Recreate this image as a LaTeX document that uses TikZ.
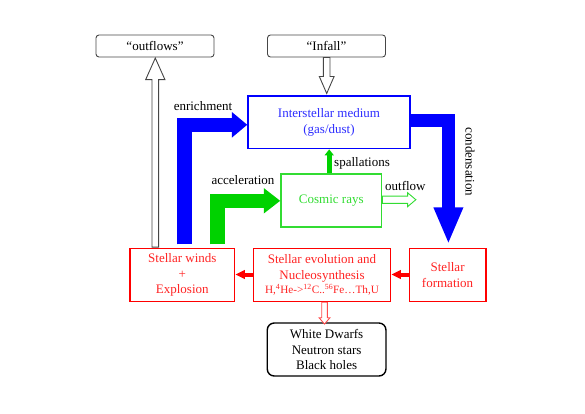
\documentclass[tikz,border=0pt]{standalone}
\usepackage{fontspec}
\setmainfont{Liberation Serif}
\usetikzlibrary{arrows.meta,calc}
\definecolor{cblue}{RGB}{0,0,255}
\definecolor{cbluetext}{RGB}{45,45,255}
\definecolor{cgreen}{RGB}{50,220,50}
\definecolor{cgreenfill}{RGB}{0,210,0}
\definecolor{cred}{RGB}{255,0,0}
\definecolor{credtext}{RGB}{255,35,35}
\definecolor{cgray}{RGB}{70,70,70}
\begin{document}
\begin{tikzpicture}[x=1pt,y=-1pt,
  every node/.style={font=\fontsize{13}{15.7}\selectfont, inner sep=0pt, align=center},
  topbox/.style={draw=cgray, line width=0.9pt, rounded corners=3pt, minimum width=118pt, minimum height=22pt},
  bluebox/.style={draw=cblue, line width=1.4pt, text=cbluetext, minimum width=162pt, minimum height=52.7pt},
  greenbox/.style={draw=cgreen, line width=1.4pt, text=cgreen, minimum width=100.7pt, minimum height=53pt},
  redbox/.style={draw=cred, line width=1.5pt, text=credtext, minimum height=53pt},
  blackbox/.style={draw=black, line width=1.4pt, rounded corners=7pt, minimum width=118.7pt, minimum height=53pt},
  lbl/.style={text=black},
  fatblue/.style={draw=cblue, line width=14.6pt, -{Triangle[width=24.7pt,length=15.5pt]}},
  fatgreen/.style={draw=cgreenfill, line width=14.5pt, -{Triangle[width=24.4pt,length=16.5pt]}},
  condblue/.style={draw=cblue, line width=13.5pt, -{Triangle[width=27pt,length=37pt]}},
  thingreen/.style={draw=cgreenfill, line width=5pt, -{Triangle[width=9pt,length=6pt]}},
  thinred/.style={draw=cred, line width=4pt, -{Triangle[width=8.5pt,length=9.5pt]}},
  hollow/.style={fill=white, line width=0.9pt, line join=miter}
]
\useasboundingbox (0,0) rectangle (585,413);

% boxes
\node[topbox] (outflows) at (155,46) {“outflows”};
\node[topbox] (infall) at (326.5,46) {“Infall”};
\node[bluebox] (ism) at (329,122.3) {Interstellar medium\\(gas/dust)};
\node[greenbox] (cr) at (331.3,200.5) {Cosmic rays};
\node[redbox, minimum width=104.7pt] (winds) at (182.3,275) {Stellar winds\\+\\Explosion};
\node[redbox, minimum width=137.4pt] (evol) at (322,275) {Stellar evolution and\\Nucleosynthesis\\[-1.5pt]{\fontsize{11.2}{13}\selectfont H,\textsuperscript{4}He->\textsuperscript{12}C..\textsuperscript{56}Fe…Th,U}};
\node[redbox, minimum width=76.7pt] (form) at (447.6,275) {Stellar\\formation};
\node[blackbox] (wd) at (326.6,349.5) {White Dwarfs\\Neutron stars\\Black holes};

% fat arrows
\draw[fatblue] ($(winds.north)+(2.4,-3.5)$) |- ($(ism.west)+(0,2.5)$);
\draw[fatgreen] ($(winds.north)+(35.2,-3.5)$) |- ($(cr.west)+(0,0.3)$);
\draw[condblue] ($(ism.east)+(0,-2)$) -| ($(form.north)+(0.8,-3.5)$);
\draw[thingreen] ($(cr.north)+(-2.1,0)$) -- ($(ism.south)+(0.2,0)$);
\draw[thinred] ($(form.west)+(0,-0.5)$) -- ($(evol.east)+(0,-0.5)$);
\draw[thinred] ($(evol.west)+(0,-0.5)$) -- ($(winds.east)+(0,-0.5)$);

% hollow arrows
\coordinate (oa) at ($(outflows.south)+(0.3,0.6)$);
\draw[hollow, draw=cgray] ($(oa)+(-3.3,189)$) -- ($(oa)+(-3.3,21.5)$) -- ($(oa)+(-9.6,21.5)$) -- (oa) -- ($(oa)+(9.6,21.5)$) -- ($(oa)+(3.3,21.5)$) -- ($(oa)+(3.3,189)$) -- cycle;
\coordinate (ia) at ($(infall.south)+(0.2,36)$);
\draw[hollow, draw=cgray] ($(ia)+(-3.3,-36)$) -- ($(ia)+(-3.3,-17)$) -- ($(ia)+(-7.4,-17)$) -- (ia) -- ($(ia)+(7.4,-17)$) -- ($(ia)+(3.3,-17)$) -- ($(ia)+(3.3,-36)$) -- cycle;
\coordinate (ga) at ($(cr.east)+(33.5,-0.8)$);
\draw[hollow, draw=cgreen] ($(ga)+(-33.5,-3.6)$) -- ($(ga)+(-8.3,-3.6)$) -- ($(ga)+(-8.3,-7)$) -- (ga) -- ($(ga)+(-8.3,7)$) -- ($(ga)+(-8.3,3.6)$) -- ($(ga)+(-33.5,3.6)$) -- cycle;
\coordinate (ra) at ($(evol.south)+(2.5,21.8)$);
\draw[hollow, draw=cred!70] ($(ra)+(-2.8,-21.8)$) -- ($(ra)+(-2.8,-6.3)$) -- ($(ra)+(-5.4,-6.3)$) -- (ra) -- ($(ra)+(5.4,-6.3)$) -- ($(ra)+(2.8,-6.3)$) -- ($(ra)+(2.8,-21.8)$) -- cycle;

% labels
\node[lbl] (lenr) at (203,106) {enrichment};
\node[lbl] (lacc) at (243,180) {acceleration};
\node[lbl] (lspa) at (362,163.5) {spallations};
\node[lbl] (lout) at (405.4,185.5) {outflow};
\node[lbl, rotate=-90] (lcond) at (470,161.7) {condensation};
\end{tikzpicture}
\end{document}
